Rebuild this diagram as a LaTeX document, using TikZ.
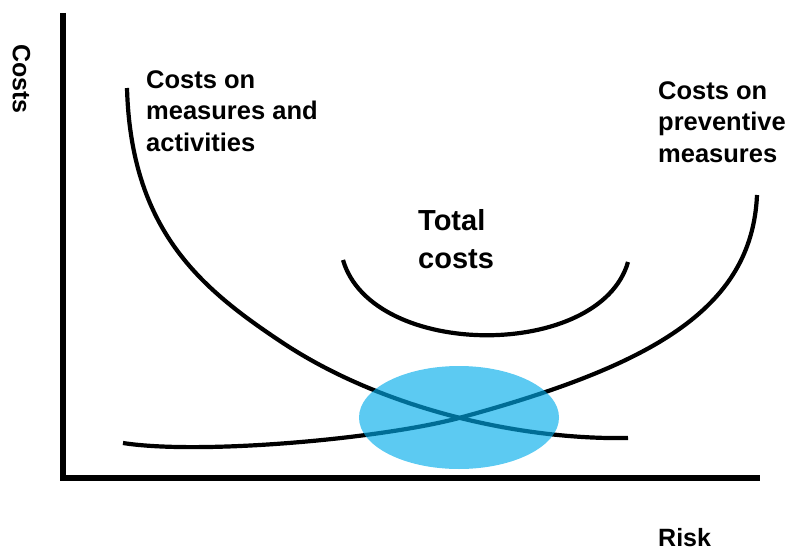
\documentclass[tikz,border=0pt]{standalone}
\usepackage{fontspec}
\setmainfont{Liberation Sans}
\definecolor{zone}{RGB}{0,172,234}
\begin{document}
\begin{tikzpicture}[x=1pt,y=-1pt,
  axisline/.style={line width=5.5pt},
  curveline/.style={line width=4.2pt},
  lbl/.style={font=\bfseries\fontsize{25.5}{31.5}\selectfont, inner sep=0pt, align=left, anchor=north west},
  biglbl/.style={font=\bfseries\fontsize{29}{38}\selectfont, inner sep=0pt, align=left, anchor=north west},
  axislbl/.style={font=\bfseries\fontsize{25}{30}\selectfont, inner sep=0pt}]
\useasboundingbox (0,0) rectangle (792,551);
% axes
\coordinate (ytop) at (63,13);
\coordinate (origin) at (63,478);
\coordinate (xend) at (760,478);
\draw[axisline] (ytop) -- (origin |- 0,480.75);
\draw[axisline] (origin) -- (xend);
% curves
\coordinate (cross) at (459,418);
\draw[curveline] (127,88) .. controls (131,230) and (200,288) .. (283,343)
                 .. controls (383,409) and (520,440) .. (628,438);
\draw[curveline] (123,443) .. controls (200,455) and (380,439) .. (cross)
                 .. controls (650,366) and (752,310) .. (757,195);
\draw[curveline] (343,260) .. controls (372,360) and (600,360) .. (628,262);
% optimum zone
\fill[zone, fill opacity=0.64] (459,417.5) ellipse [x radius=100, y radius=51.5];
% labels
\node[lbl] (measures) at (146,70) {Costs on\\measures and\\activities};
\node[lbl] (preventive) at (658,81) {Costs on\\preventive\\measures};
\node[biglbl] (total) at (418,209) {Total\\costs};
\node[axislbl, rotate=-90] (costs) at (21.5,79) {Costs};
\node[axislbl, anchor=base west] (risk) at (658,546) {Risk};
\end{tikzpicture}
\end{document}
